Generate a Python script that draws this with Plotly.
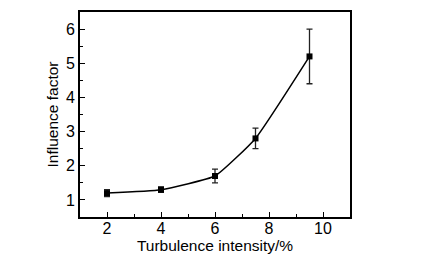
import plotly.graph_objects as go

turbulence = [2, 4, 6, 7.5, 9.5]
influence = [1.2, 1.3, 1.7, 2.8, 5.2]
err = [0.1, 0.08, 0.2, 0.3, 0.8]

fig = go.Figure()
fig.add_trace(go.Scatter(
    x=turbulence, y=influence, mode="lines+markers",
    line=dict(color="black", width=1.5, shape="spline", smoothing=0.4),
    marker=dict(symbol="square", size=6, color="black"),
    error_y=dict(type="data", array=err, visible=True, color="#222", thickness=1.3, width=3),
    showlegend=False,
))

tickfont = dict(family="Liberation Sans, Arial, sans-serif", size=16, color="black")
titlefont = dict(family="Liberation Sans, Arial, sans-serif", size=15.5, color="black")
# page body has an 8px default margin; size the figure so the plot box lands where the reference has it
fig.update_layout(
    template="none",
    width=433, height=260,
    margin=dict(l=72, r=91, t=4, b=51),
    paper_bgcolor="white", plot_bgcolor="white",
    font=tickfont,
)
fig.update_xaxes(
    automargin=False,
    range=[1, 11], dtick=2, tick0=0, ticks="inside", ticklen=5, tickwidth=1.3, tickcolor="black",
    minor=dict(ticks="inside", ticklen=3, dtick=1, tick0=0, tickcolor="black", tickwidth=1.3),
    showline=True, linecolor="black", linewidth=2, mirror=True, showgrid=False, zeroline=False,
    title=dict(text="Turbulence intensity/%", standoff=2, font=titlefont),
    tickfont=tickfont, ticklabelstandoff=-4,
)
fig.update_yaxes(
    automargin=False,
    range=[0.5, 6.5], dtick=1, tick0=0, ticks="inside", ticklen=5, tickwidth=1.3, tickcolor="black",
    minor=dict(ticks="inside", ticklen=3, dtick=0.5, tick0=0, tickcolor="black", tickwidth=1.3),
    showline=True, linecolor="black", linewidth=2, mirror=True, showgrid=False, zeroline=False,
    title=dict(text="Influence factor", standoff=3, font=titlefont),
    tickfont=tickfont, ticklabelstandoff=0,
)
fig.write_html("out.html")
